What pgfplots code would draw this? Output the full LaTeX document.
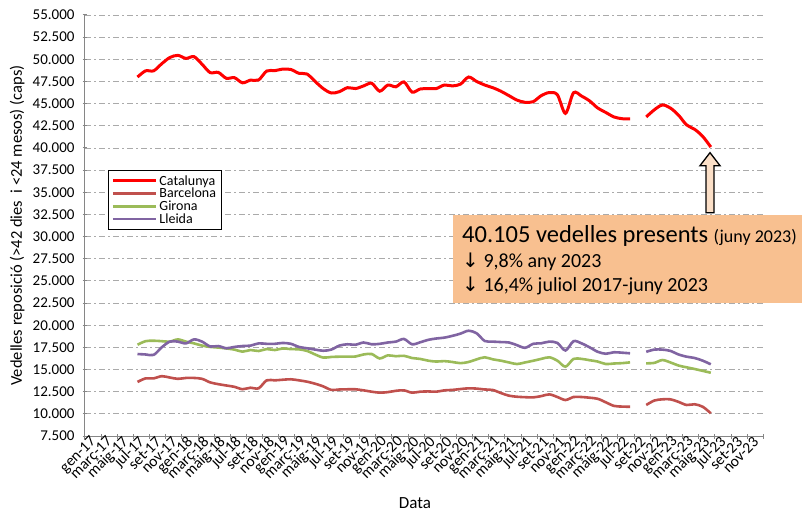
\documentclass[border=0pt]{standalone}
\usepackage{fontspec}
\setmainfont{Carlito}
\newfontfamily\symfont{DejaVu Sans}
\usepackage{pgfplots}
\pgfplotsset{compat=1.18}
\usepackage{pgfplotstable}

\definecolor{catred}{RGB}{255,0,0}
\definecolor{bcnred}{RGB}{192,80,77}
\definecolor{girgreen}{RGB}{155,187,89}
\definecolor{llepurple}{RGB}{128,100,162}
\definecolor{axisgray}{RGB}{134,134,134}
\definecolor{gridgray}{RGB}{170,170,170}
\definecolor{boxfill}{RGB}{248,192,144}

% m = months since gen-17
\pgfplotstableread{
m  cat    bcn    gir    lle
6  48000  13600  17800  16750
7  48700  14000  18200  16700
8  48700  14000  18250  16650
9  49500  14250  18200  17500
10 50200  14100  18150  18150
11 50450  13950  18400  18150
12 50100  14050  18150  17950
13 50300  14050  17950  18400
14 49440  13950  17700  18150
15 48500  13550  17550  17600
16 48530  13350  17480  17650
17 47860  13200  17380  17400
18 47930  13050  17250  17550
19 47350  12780  17020  17650
20 47650  12950  17200  17700
21 47670  12880  17090  17950
22 48680  13780  17310  17900
23 48720  13780  17200  17900
24 48900  13850  17380  18000
25 48850  13900  17300  17900
26 48420  13780  17280  17550
27 48340  13630  17100  17400
28 47500  13400  16700  17250
29 46700  13100  16350  17120
30 46200  12700  16420  17250
31 46350  12750  16450  17700
32 46800  12770  16450  17850
33 46700  12770  16470  17800
34 47000  12650  16700  18050
35 47300  12500  16750  17850
36 46400  12390  16250  17900
37 47100  12450  16600  18050
38 46900  12600  16500  18150
39 47450  12650  16550  18450
40 46300  12390  16300  17850
41 46650  12500  16200  18070
42 46700  12530  16000  18350
43 46700  12500  15900  18500
44 47100  12650  15950  18600
45 47000  12700  15850  18800
46 47200  12800  15720  19050
47 48000  12880  15850  19380
48 47500  12850  16150  19090
49 47100  12750  16380  18220
50 46800  12690  16150  18150
51 46400  12350  16000  18100
52 45900  12050  15800  18050
53 45400  11930  15620  17750
54 45150  11880  15800  17450
55 45220  11860  15990  17900
56 45900  12000  16200  17960
57 46250  12200  16380  18150
58 46000  11900  16000  18000
59 43900  11560  15320  17150
60 46230  11900  16200  18200
61 45850  11900  16200  17950
62 45300  11820  16050  17500
63 44500  11700  15900  17000
64 44000  11300  15620  16780
65 43500  10900  15680  16950
66 43300  10820  15720  16900
67 43270  10800  15810  16830
68 nan    nan    nan    nan
69 43500  11000  15700  17000
70 44300  11500  15750  17250
71 44850  11640  16070  17250
72 44500  11640  15800  17100
73 43700  11350  15450  16700
74 42600  11000  15250  16450
75 42100  11080  15060  16300
76 41300  10800  14850  16000
77 40105  10060  14640  15590
}\vedelles

\begin{document}
\begin{tikzpicture}
\begin{axis}[
  width=678.3pt, height=421pt, scale only axis,
  xmin=-0.5, xmax=83.5, ymin=7500, ymax=55000,
  ytick={7500,10000,...,55000}, minor ytick={7500,10000,...,55000},
  xtick={0,2,...,82}, minor xtick={-0.5,1.5,...,83.5},
  major tick length=0pt, minor tick length=5pt, tick align=outside,
  xticklabels={gen-17,març-17,maig-17,jul-17,set-17,nov-17,
    gen-18,març-18,maig-18,jul-18,set-18,nov-18,
    gen-19,març-19,maig-19,jul-19,set-19,nov-19,
    gen-20,març-20,maig-20,jul-20,set-20,nov-20,
    gen-21,març-21,maig-21,jul-21,set-21,nov-21,
    gen-22,març-22,maig-22,jul-22,set-22,nov-22,
    gen-23,març-23,maig-23,jul-23,set-23,nov-23},
  xticklabel style={rotate=45, anchor=east, font=\fontsize{15.5}{16}\selectfont, inner sep=1pt,
    yshift=-6pt, xshift=2pt},
  yticklabel style={font=\fontsize{15}{16}\selectfont, xshift=-7pt,
    /pgf/number format/.cd, fixed, precision=0, 1000 sep={.}, assume math mode=true},
  scaled y ticks=false,
  axis lines=left, axis line style={-, draw=axisgray, line width=1pt},
  tick style={draw=axisgray, line width=1pt},
  ymajorgrids, grid style={draw=gridgray, line width=0.9pt, dash pattern=on 6pt off 3pt on 2pt off 3pt},
  xlabel={Data}, xlabel style={font=\fontsize{17}{19}\selectfont,
    at={(axis description cs:0.4865,-0.159)}, anchor=center},
  ylabel={Vedelles reposició (>42 dies \ i <24 mesos) (caps)},
  ylabel style={font=\fontsize{16.5}{18}\selectfont,
    at={(axis description cs:-0.1,0.5)}, anchor=center},
  unbounded coords=jump, clip=false,
  legend style={at={(rel axis cs:0.034,0.632)}, anchor=north west, draw=black, line width=0.8pt,
    font=\fontsize{14}{15}\selectfont, row sep=-2.5pt, inner xsep=3pt, inner ysep=3pt},
  legend cell align=left,
  legend image code/.code={\draw[#1] (6pt,0pt) -- (49pt,0pt);},
]
\addplot[catred, line width=3pt, smooth] table[x=m, y=cat] {\vedelles};
\addlegendentry{Catalunya}
\addplot[bcnred, line width=2.6pt, smooth] table[x=m, y=bcn] {\vedelles};
\addlegendentry{Barcelona}
\addplot[girgreen, line width=2.6pt, smooth] table[x=m, y=gir] {\vedelles};
\addlegendentry{Girona}
\addplot[llepurple, line width=2.6pt, smooth] table[x=m, y=lle] {\vedelles};
\addlegendentry{Lleida}

\fill[boxfill] (axis cs:45.07,32434) rectangle (axis cs:88.3,22504);
\node[anchor=base west, inner sep=0pt, font=\fontsize{24.5}{27}\selectfont]
  at (axis cs:46.19,29309) {40.105 vedelles presents {\fontsize{18}{20}\selectfont (juny 2023)}};
\node[anchor=base west, inner sep=0pt, font=\fontsize{20}{22}\selectfont]
  at (axis cs:46.19,26487) {{\symfont ↓} 9,8\% any 2023};
\node[anchor=base west, inner sep=0pt, font=\fontsize{20}{22}\selectfont]
  at (axis cs:46.19,23859) {{\symfont ↓} 16,4\% juliol 2017-juny 2023};
\draw[line width=1.3pt, fill=boxfill!50!white] (axis cs:76.9,32700) ++(-4pt,0pt) -- ++(0pt,47pt)
  -- ++(-6pt,0pt) -- ++(10pt,13pt) -- ++(10pt,-13pt) -- ++(-6pt,0pt) -- ++(0pt,-47pt) -- cycle;
\end{axis}
\pgfresetboundingbox
\path ([xshift=-85pt,yshift=-77pt]current axis.south west) rectangle ([xshift=38.7pt,yshift=15pt]current axis.north east);
\end{tikzpicture}
\end{document}
